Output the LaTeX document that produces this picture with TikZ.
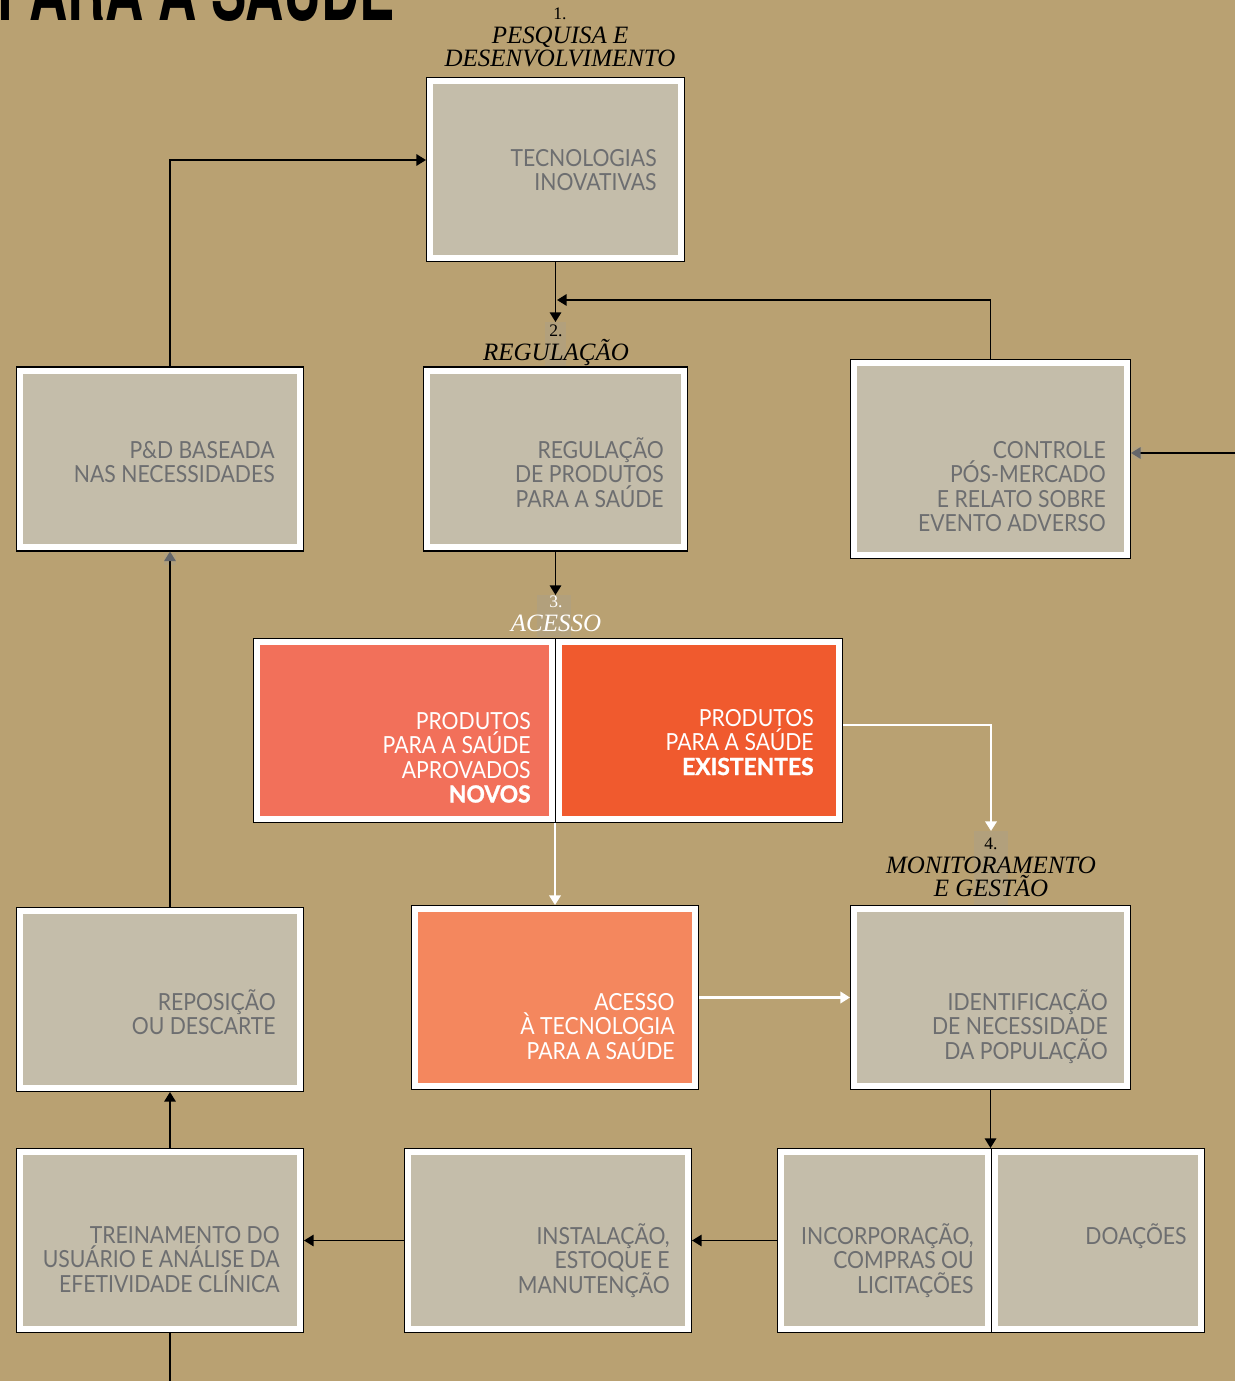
\documentclass[tikz,border=0pt]{standalone}
\usepackage{fontspec}
\setsansfont{Lato}[FakeStretch=0.9]
\newfontfamily\heavyfont{Lato}[FakeStretch=0.97, BoldFeatures={FakeBold=1.2}]
\newfontfamily\stagefont{Liberation Serif}
\newfontfamily\titlefont{TeX Gyre Heros}[FakeStretch=0.64]
\usetikzlibrary{arrows.meta, positioning, calc}
\definecolor{bgtan}{RGB}{185, 161, 114}
\definecolor{boxgray}{RGB}{196, 189, 170}
\definecolor{txtgray}{RGB}{109, 110, 112}
\definecolor{tipgray}{RGB}{100, 102, 106}
\definecolor{patchc}{RGB}{178, 160, 124}
\definecolor{novored}{RGB}{242, 112, 90}
\definecolor{existred}{RGB}{240, 90, 46}
\definecolor{acessored}{RGB}{244, 135, 94}
\newcommand{\heavy}[1]{{\heavyfont\bfseries #1}}
\newcommand{\stagenum}[1]{{\upshape\fontsize{10}{10}\selectfont #1}}

\begin{document}
\begin{tikzpicture}[
  x=0.02cm, y=-0.02cm,
  gbox/.style={draw=white, line width=3.2pt, fill=boxgray, preaction={draw=black, line width=4.8pt}, inner sep=0pt, outer sep=2.4pt, minimum height=3.532cm},
  obox/.style={gbox, fill=#1},
  btext/.style={font=\sffamily\fontsize{13.4}{13.9}\selectfont, text=txtgray, align=right, inner sep=0pt, anchor=base east},
  wtext/.style={btext, text=white},
  stagelbl/.style={font=\stagefont\itshape\fontsize{14.2}{13}\selectfont, align=center, inner sep=0pt, anchor=south, text depth=0pt},
  patch/.style={fill=patchc, inner sep=0pt, outer sep=0pt},
  con/.style={line width=1.1pt, -{Triangle[length=5.5pt, width=6.5pt]}},
  gcon/.style={line width=1.1pt, -{Triangle[length=5.5pt, width=6.5pt, color=tipgray]}},
  wcon/.style={draw=white, line width=1.5pt, -{Triangle[length=5.5pt, width=6.5pt]}}
]
  \fill[bgtan] (0,0) rectangle (1235,1381);
  \useasboundingbox (0,0) rectangle (1235,1381);

  \node[font=\titlefont\bfseries\fontsize{47}{47}\selectfont, inner sep=0pt, anchor=base west] (title) at (-3,21) {PARA A SAÚDE};

  \node[patch, minimum width=0.42cm, minimum height=0.88cm] (p2) at (555.5,344) {};
  \node[patch, minimum width=0.68cm, minimum height=0.84cm] (p3) at (554,616) {};
  \node[patch, minimum width=0.68cm, minimum height=1.48cm] (p4) at (991,868) {};
  \node[patch, minimum width=0.24cm, minimum height=0.24cm] (pa) at (170,559) {};
  \node[patch, minimum width=0.2cm, minimum height=0.24cm] (pb) at (1138,453) {};

  \node[stagelbl] (s1) at (560,67) {\stagenum{1.}\\[1pt] PESQUISA E\\ DESENVOLVIMENTO};
  \node[stagelbl] (s2) at (556,361) {\stagenum{2.}\\[1pt] REGULAÇÃO};
  \node[stagelbl, text=white] (s3) at (556,632) {\stagenum{3.}\\[1pt] ACESSO};
  \node[stagelbl] (s4) at (991,897) {\stagenum{4.}\\[1pt] MONITORAMENTO\\ E GESTÃO};

  \node[gbox, minimum width=5.012cm] (tec) at (555.5,169.5) {};
  \node[gbox, minimum width=5.592cm] (pd) at (160,459) {};
  \node[gbox, minimum width=5.132cm] (reg) at (555.5,459) {};
  \node[gbox, minimum width=5.452cm, minimum height=3.832cm] (ctrl) at (990.5,459) {};
  \node[obox=novored, minimum width=5.892cm] (novos) at (404.5,730.5) {};
  \node[obox=existred, minimum width=5.592cm] (exist) at (699,730.5) {};
  \node[obox=acessored, minimum width=5.592cm] (acesso) at (555,997.5) {};
  \node[gbox, minimum width=5.452cm] (ident) at (990.5,997.5) {};
  \node[gbox, minimum width=5.592cm] (repos) at (160,999.5) {};
  \node[gbox, minimum width=5.592cm] (trein) at (160,1240.5) {};
  \node[gbox, minimum width=5.592cm] (instal) at (548,1240.5) {};
  \node[gbox, minimum width=4.132cm] (incorp) at (884.5,1240.5) {};
  \node[gbox, minimum width=4.112cm] (doac) at (1098,1240.5) {};

  \node[btext] (tec-t) at (657,190.5) {TECNOLOGIAS\\ INOVATIVAS};
  \node[btext] (pd-t) at (275,482.5) {P\&D BASEADA\\ NAS NECESSIDADES};
  \node[btext] (reg-t) at (664,507) {REGULAÇÃO\\ DE PRODUTOS\\ PARA A SAÚDE};
  \node[btext] (ctrl-t) at (1106,531.5) {CONTROLE\\ PÓS-MERCADO\\ E RELATO SOBRE\\ EVENTO ADVERSO};
  \node[wtext] (novos-t) at (531,802.5) {PRODUTOS\\ PARA A SAÚDE\\ APROVADOS\\ \heavy{NOVOS}};
  \node[wtext] (exist-t) at (814,775) {PRODUTOS\\ PARA A SAÚDE\\ \heavy{EXISTENTES}};
  \node[wtext] (acesso-t) at (675,1059) {ACESSO\\ À TECNOLOGIA\\ PARA A SAÚDE};
  \node[btext] (ident-t) at (1108,1059) {IDENTIFICAÇÃO\\ DE NECESSIDADE\\ DA POPULAÇÃO};
  \node[btext] (repos-t) at (276,1034.5) {REPOSIÇÃO\\ OU DESCARTE};
  \node[btext] (trein-t) at (280,1292) {TREINAMENTO DO\\ USUÁRIO E ANÁLISE DA\\ EFETIVIDADE CLÍNICA};
  \node[btext] (instal-t) at (670,1293) {INSTALAÇÃO,\\ ESTOQUE E\\ MANUTENÇÃO};
  \node[btext] (incorp-t) at (974,1293) {INCORPORAÇÃO,\\ COMPRAS OU\\ LICITAÇÕES};
  \node[btext] (doac-t) at (1187,1244) {DOAÇÕES};

  \coordinate (lc) at (170,0);
  \coordinate (j2) at (557,300);
  \coordinate (e1) at (1235,453);
  \coordinate (e2) at (170,1381);

  \draw[con] (tec.south) -- (tec.south |- p2.north);
  \draw[con] (ctrl.north) |- (j2);
  \draw[gcon] (e1) -- (ctrl.east |- e1);
  \draw[con] (pd.north -| lc) |- ([yshift=0.19cm]tec.west);
  \draw[con] (reg.south) -- (reg.south |- p3.north);
  \draw[gcon] (repos.north -| lc) -- (pd.south -| lc);
  \draw[wcon] (acesso.north |- exist.south) -- (acesso.north);
  \draw[wcon] ([yshift=0.11cm]exist.east) -| (p4.north);
  \draw[wcon] (acesso.east) -- (ident.west);
  \draw[con] (ident.south) -- (ident.south |- doac.north);
  \draw[con] (incorp.west) -- (instal.east);
  \draw[con] (instal.west) -- (trein.east);
  \draw[con] (trein.north -| lc) -- (repos.south -| lc);
  \draw[line width=1.1pt] (trein.south -| lc) -- (e2);
\end{tikzpicture}
\end{document}
